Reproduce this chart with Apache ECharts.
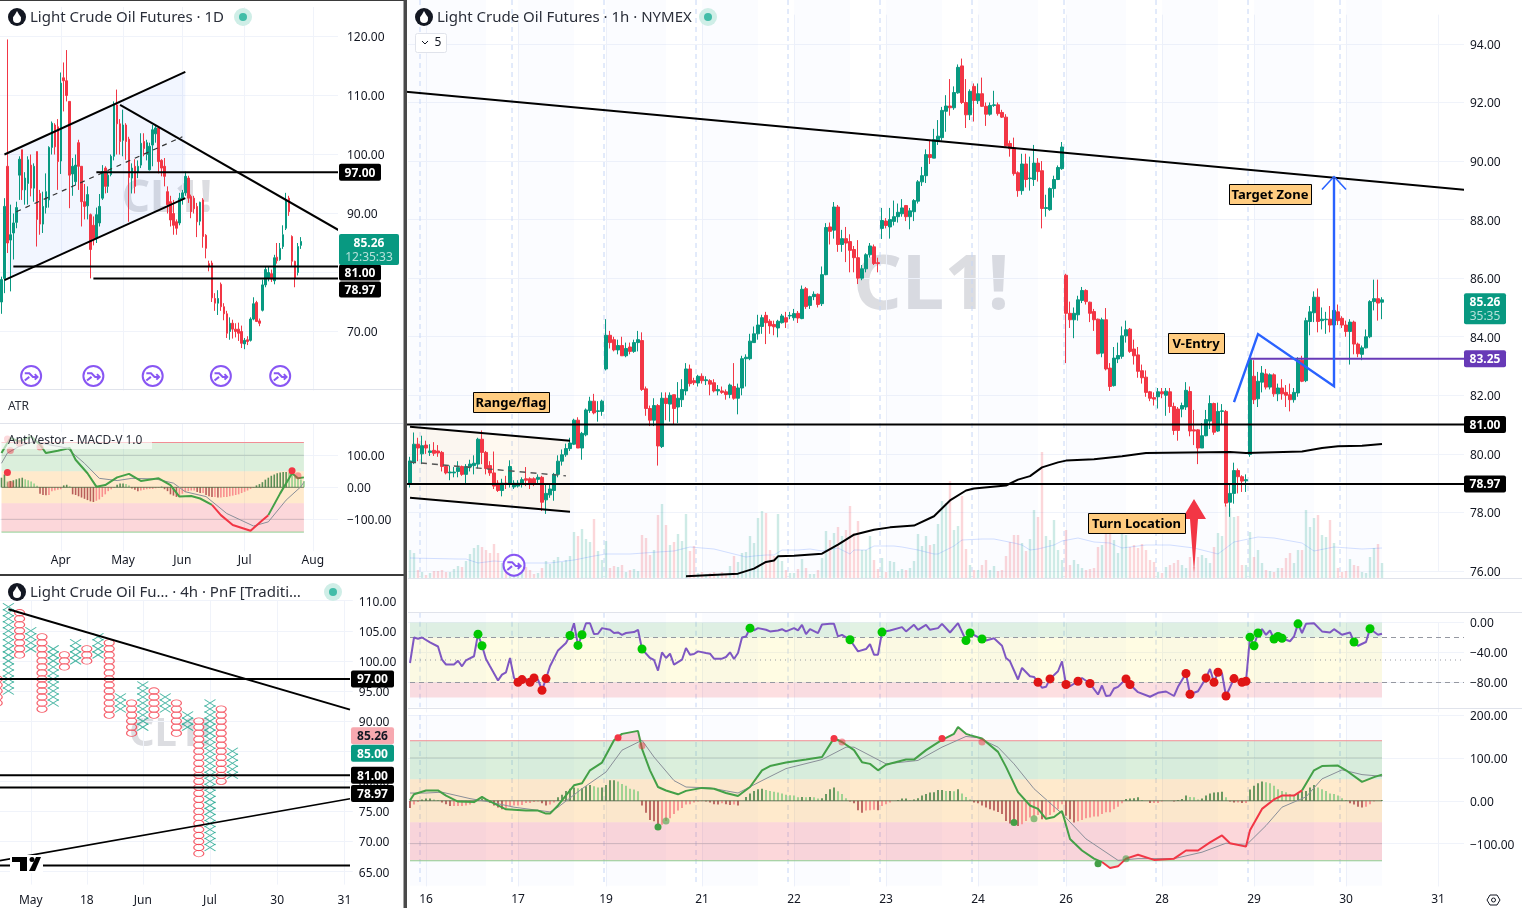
<!DOCTYPE html>
<html>
<head>
<meta charset="utf-8">
<title>CL1!</title>
<script src="https://cdn.jsdelivr.net/npm/echarts@6/dist/echarts.min.js"></script>
<style>html,body{margin:0;padding:0;background:#fff}#root{width:1522px;height:908px}</style>
</head>
<body>
<div id="root"></div>
<script>
// daily candles, top left pane: open, close, low, high
const dayBars = [
[75,78.8,73,79.3],[79,91.2,76.5,92.6],[98,85,83.3,119.5],[85.5,86.4,76.8,91.5],[86.7,88.4,82.2,90],[88.5,91,87.5,92],[96.5,99.2,92.3,99.7],[100.8,94,92.3,100.8],[94,96,91.5,97],[95.1,99.1,91.5,99.7],
[98.2,94.3,92.9,100],[94.3,98,92,98.5],[100.5,89,84.4,100.5],[93.4,88.2,86.4,94],[88.2,91.2,86.7,93.7],[91,93.7,90,96.8],[92.3,101.2,91,101.4],[101.2,105.3,100,105.6],[105,101.3,100,105.3],[104.7,98.8,94,106],
[98.9,112.1,96.7,113.9],[113,112.5,107.3,115.6],[112.5,110,109,117.7],[109,96.5,90.9,109],[96.7,98,93,99.4],[95.4,98.2,94.8,100],[102,98,94,102.5],[98,92,87.8,98],[92,91.2,89,95],[91.3,93.2,89,94.6],
[89.8,83.9,79,90],[88,85.7,84.6,89.5],[85.8,89.8,85,91],[88.4,91.2,87.8,93.3],[92.6,97.1,92.3,98.2],[97.7,94.6,93.4,98],[94.6,96.5,93.5,97],[96.6,99.7,96.3,100],[99.7,108.4,99,109],[108.4,105.2,100,111],
[105.2,102.2,100,106],[102.4,105,99.7,107.6],[105,102.2,99.1,105.3],[102.6,96.1,88.6,103],[96,97.7,93.4,98.5],[98,94.6,93.4,99.2],[97,98,96,99],[98.2,101.9,97.7,103.6],[102.2,101,99.7,103.6],[100,102,99,102.5],
[97.4,101.4,97.3,102],[101.6,104.2,98,105],[103.5,104.5,102,105],[104.5,98.8,96.8,104.8],[99,97.7,96.3,99.2],[98,96.3,94.6,99.4],[93.7,91.5,90,94.6],[92,88.9,87.8,93],[90,88,86.4,92.3],[88.6,87.5,86.4,89],
[88.4,92.6,88,93.5],[92.5,93.5,91.5,94],[93.5,96.3,93,97.1],[96,92.6,91.8,96.4],[92.9,90.3,89.2,93.2],[92.6,90.8,90,93],[91.2,88.6,86,91.8],[88.7,91.9,88,92],[92.3,86.1,84.2,92.6],[86.3,84.1,82.4,86.5],
[81.5,81,80.2,82],[81.6,75.7,75,82],[75.6,74.8,73.5,76.5],[74.8,75.6,72.8,77],[78,74.2,73.5,78.3],[74.2,73,71.9,74.8],[73,69.7,68.9,73.5],[70,71.4,68.6,72.4],[71.4,70.4,68.8,72],[70.4,70,69,71.4],
[70.4,69.7,68.4,71.5],[70,68,67.2,71],[67.9,68.5,67,68.9],[68.6,68.3,67.7,69.2],[68.5,72.1,68.3,72.4],[72.1,74.7,71.9,75.8],[74.9,71.7,71.6,75.2],[71.8,71.4,70.9,72.2],[73.6,77.9,73.4,78.8],[77.9,80.5,77.5,81],
[79,80,78.5,81],[79.8,78.9,78.4,80.5],[78.6,82.5,78,83],[82.6,82,81.5,85],[82.2,84.1,82,85],[84.4,86.4,84,88],[87.5,92.3,87.2,93.5],[92.6,90.3,89.6,93],[86.1,81.9,81,86.3],[81.9,79,77.5,82],
[80,84.4,79.5,85],[84.6,85.26,84,86]
];
const dayTickIdx = [20,41,61,82,105];
const dayTickText = ['Apr','May','Jun','Jul','Aug'];
const dayEventIdx = [10,31,51,74,94];

// MACD-V on the daily pane: [bar, value] vertices
const dayMacd = [[0,107],[3,154],[6,143],[10,159],[13,133],[15,107],[19,114],[23,123],[25,86],[29,44],[32,2],[35,7],[39,31],[43,42],[47,20],[53,28],[57,7],[60,-29],[64,-27],[67,-35],[71,-55],[74,-87],[78,-118],[84,-136],[88,-103],[90,-87],[94,-19],[98,44],[100,28],[102,31]];
const daySignal = [[0,75],[2,107],[6,128],[11,143],[16,133],[22,123],[28,75],[33,28],[39,21],[44,28],[52,26],[58,13],[62,-14],[69,-29],[76,-82],[85,-121],[90,-108],[96,-40],[101,2],[102,16]];
const dayHist = [30,40,18,20,22,25,28,30,25,22,18,12,5,-20,-24,-25,-24,-12,-10,-8,-6,6,8,3,-22,-24,-28,-32,-36,-40,-44,-46,-42,-38,-30,-22,-12,-6,-2,8,12,12,10,6,-4,-8,-12,-10,-8,-6,-5,-5,-3,-2,2,-6,-12,-22,-26,-30,-26,-20,-15,-12,-10,-10,-15,-18,-18,-24,-28,-30,-30,-32,-32,-30,-30,-28,-26,-24,-22,-18,-14,-10,-5,-2,6,10,16,24,30,36,40,44,46,48,48,46,42,34,28,24,20];
const dayDots = [[2,46],[98,52]];
const dayDotsPale = [[3,9],[100,36],[2,151],[3,115],[6,138],[13,126]];

// point & figure columns: highest box, lowest box, kind
const pnfTop =    [97,109,108,105,104,102,101,103,102,104,103,94,93,96,95,94,93,91,90,93,92,85];
const pnfBottom = [93,95,101,102,92,93,99,100,100,101,91,92,88,89,91,92,88,89,68,69,80,81];
const pnfKind =   ['O','X','O','X','O','X','O','X','O','X','O','X','O','X','O','X','O','X','O','X','O','X'];
// the pnf axis runs in half columns so column 0 can sit just off the left edge
const pnfTickIdx = [5,15,25,37,49,61];
const pnfTickText = ['May','18','Jun','Jul','30','31'];

// hourly candles, main pane: open, close, low, high
const hourBars = [
[78.97,79.76,78.85,79.9],[79.7,80.33,79.65,80.73],[80.33,80.2,79.75,80.55],[80,80.28,79.65,80.62],[80.3,80.2,80,80.45],[80.05,80.1,79.93,80.33],[80.12,80.02,79.93,80.4],[80.1,80.03,79.9,80.3],[80.05,79.57,79.4,80.1],[79.57,79.35,79.3,79.6],
[79.35,79.38,79.1,79.6],[79.35,79.38,79.2,79.55],[79.4,79.53,79.2,79.75],[79.57,79.3,79.25,79.6],[79.3,79.57,79,79.65],[79.55,79.65,79.4,79.8],[79.6,79.68,79.3,79.95],[79.65,80.5,79.5,80.55],[80.5,80.05,79.65,80.8],[80.05,79.5,79.3,80.1],
[79.6,79.35,79.25,79.75],[79.35,78.9,78.8,80.08],[79,78.75,78.7,79.1],[78.75,79,78.55,79.15],[79,78.98,78.8,79.25],[79,79.57,78.85,79.78],[78.87,79,78.8,79.1],[78.9,79,78.85,79.1],[78.98,79.12,78.85,79.2],[79.15,79.1,78.9,79.55],
[79.15,79,78.8,79.2],[79.15,79,78.9,79.2],[79.13,79.2,79,79.3],[79.2,78.35,78.05,79.25],[78.43,78.65,77.95,78.95],[78.6,78.8,78.5,79],[78.75,79.3,78.4,79.35],[79.3,79.75,79.2,79.95],[79.75,79.97,79.6,80.15],[79.97,80.18,79.9,80.35],
[80.18,80.37,80.1,80.55],[80.33,81.15,80.3,81.2],[81.15,80.2,80.2,81.25],[80.2,80.7,79.8,80.75],[80.65,81.5,80.6,81.55],[81.48,81.8,81.4,81.95],[81.8,81.4,81.35,82.05],[81.45,81.47,81.1,81.8],[81.45,81.8,81.3,81.85],[82.9,84.05,82.85,84.6],
[84.05,83.8,83.6,84.2],[83.9,83.55,83.5,84],[83.55,83.7,83.4,83.9],[83.7,83.35,83.35,84],[83.35,83.6,83.3,83.8],[83.65,83.5,83.4,83.8],[83.5,83.8,83.45,83.9],[83.8,83.9,83.5,84.2],[83.87,82.2,82.15,84.15],[82.22,81.55,81.3,82.3],
[81.55,81.15,80.95,81.65],[81.15,81.65,80.95,81.9],[81.65,80.27,79.6,81.7],[80.25,81.9,80.2,82.1],[81.9,81.72,81.15,82.1],[81.7,82,81.1,82.1],[82.02,81.55,81,82.02],[81.6,81.9,81.05,82.45],[81.85,82.2,81.6,82.55],[82.15,82.9,82,83.1],
[82.9,82.4,82.3,83.05],[82.5,82.43,82.35,82.6],[82.42,82.65,82.3,82.7],[82.65,82.5,82.4,82.75],[82.5,82.53,82.35,82.65],[82.5,82.38,82,82.55],[82.43,82.15,82.1,82.55],[82.15,82.2,82,82.35],[82.15,82.1,82.05,82.3],[82.12,82.03,81.85,82.2],
[82.03,82.35,81.9,82.4],[82.3,81.9,81.85,83.1],[81.9,82.25,81.35,82.4],[82.25,83.25,82,83.35],[83.25,83.3,82.3,83.4],[83.25,83.85,83.2,84.1],[83.8,84.1,83.8,84.35],[84.1,84.4,83.9,84.75],[84.35,84.65,84.1,84.75],[84.73,84.48,83.75,84.85],
[84.53,84.37,84.1,84.6],[84.42,84.34,84.05,84.55],[84.3,84.53,83.98,84.58],[84.48,84.71,84.45,84.78],[84.65,84.5,84.3,84.85],[84.71,84.73,84.6,84.85],[84.65,84.79,84.55,84.95],[84.8,84.64,84.47,84.88],[84.62,85.62,84.6,85.75],[85.64,85.03,84.95,85.7],
[85.07,85.37,84.95,85.4],[85.37,85.45,85.25,85.55],[85.45,85.1,85,85.48],[85.13,86.12,85.05,86.4],[86.12,87.73,86.1,87.88],[87.75,87.6,87.15,87.9],[87.64,88.43,87.35,88.6],[88.43,87.15,86.9,88.5],[87.15,87.35,86.9,87.65],[87.35,87.2,86.55,87.75],
[87.25,86.95,86.2,87.5],[86.98,86.7,86.2,87.1],[86.7,86,85.8,87.3],[86,86.32,85.93,86.45],[86.32,86.8,86.2,86.85],[86.8,87.1,86.7,87.2],[87.07,86.5,86.45,87.15],[86.53,86.5,86.2,86.7],[87.7,87.97,87.34,88.4],[87.95,87.8,87.7,88.05],
[87.75,88,87.35,88.4],[87.94,88.1,87.8,88.65],[88.1,88.25,87.9,88.55],[88.2,88.4,88.1,88.7],[88.48,88.1,87.95,88.5],[88.1,88.3,87.67,88.4],[88.27,88.65,87.95,88.7],[88.63,89.29,88.55,89.35],[89.29,89.5,89.15,89.8],[89.5,90.22,89.25,90.4],
[90.22,90.12,89.9,90.7],[90.1,90.73,90.1,91.1],[90.68,90.85,90.55,91.4],[90.8,91.73,90.7,91.85],[91.7,91.88,91,92.25],[91.88,91.82,91.55,92.8],[91.82,92.34,91.75,92.55],[92.33,93.2,92.3,93.3],[93.25,92,91.95,93.5],[92,91.58,91.13,92.8],
[91.58,92.38,91.4,92.45],[92.55,92.07,91.35,92.65],[92.06,92.3,91.95,92.65],[92.3,91.87,91.85,92.85],[91.87,91.6,91.2,92],[91.6,91.9,91.55,92],[91.9,91.92,91.85,92.4],[91.92,91.62,91.55,92],[91.66,91.5,91.47,91.75],[91.5,90.52,90.5,91.6],
[90.6,90.42,90.15,90.7],[90.45,89.57,89.5,90.8],[89.6,88.99,88.78,89.65],[88.99,89.9,88.85,90.25],[89.9,89.37,89.1,90.25],[89.4,89.42,88.99,90.15],[89.37,89.93,89.15,90.55],[89.93,89.64,89.3,90.1],[89.67,88.38,87.7,90],[88.38,88.41,88.1,88.85],
[88.34,89.06,88.3,89.1],[89.06,89.37,88.75,89.5],[89.37,89.78,89.35,89.85],[89.74,90.48,89.7,90.65],[86.1,84.8,83.1,86.15],[84.8,84.58,84.3,85.2],[84.58,84.8,83.95,85],[84.75,85.26,84.55,85.4],[85.24,85.58,85.15,85.7],[85.58,85.2,85.1,85.62],
[85.18,84.8,84.5,85.2],[84.86,84.58,84.2,84.95],[84.6,83.42,83.4,84.62],[83.44,84.58,83.3,84.65],[84.58,82.9,82.85,84.98],[82.93,82.3,82.15,83.1],[82.33,83.27,82.3,83.65],[83.24,83.36,83.1,83.8],[83.33,84.03,83.25,84.35],[84.03,84.24,83.8,84.55],
[84.26,83.5,83.45,84.3],[83.58,83.35,83.05,83.9],[83.38,82.82,82.6,83.65],[82.84,82.6,82.4,83.05],[82.62,82.1,81.95,82.85],[82.12,81.9,81.8,82.15],[81.92,81.87,81.65,82.1],[81.95,82.12,81.55,82.25],[82.12,82.05,81.9,82.25],[82,82.14,81.3,82.25],
[82.12,81.62,81.4,82.25],[81.62,80.8,80.65,81.75],[81.53,80.8,80.45,81.6],[81.53,81.65,81.25,81.75],[81.6,82.17,81.5,82.45],[82.13,80.78,80.6,82.3],[80.82,80.78,80.3,81.5],[80.82,80.2,79.65,80.85],[80.2,80.62,80.2,81.05],[80.62,81.17,80.6,81.5],
[81.12,81.72,80.85,82],[81.72,80.74,80.65,81.75],[80.78,81.45,80.75,81.75],[81.45,81.47,81,81.7],[81.45,78.32,78.2,81.5],[78.35,78.65,77.85,79],[78.65,79.43,78.3,79.7],[79.43,79.22,78.65,79.5],[79.22,79.07,78.7,79.27],[79.08,79.12,78.7,79.3],
[79.98,83.22,79.9,83.25],[82.65,81.85,81.7,83.2],[81.88,82.48,81.6,82.8],[82.45,82.76,82.1,83],[82.73,82.28,82.2,82.9],[82.28,82.7,82.2,82.75],[82.7,82.05,81.95,82.75],[82.05,82.25,81.8,82.4],[82.25,82.05,81.85,82.55],[82.1,82,81.6,82.35],
[82.02,81.85,81.45,82.4],[81.85,82.1,81.75,82.25],[82.08,83.2,81.95,83.3],[83.2,82.48,82.45,83.35],[82.5,84.55,82.45,84.65],[84.52,84.85,84.05,85.05],[84.82,85.35,84.5,85.55],[85.35,84.52,84.15,85.65],[84.55,84.6,84.25,85],[84.58,84.6,84.1,84.85],
[84.6,84.4,84.15,85.05],[84.4,84.9,84.1,85.25],[84.85,84.55,84.4,85.1],[84.63,84.4,84.3,84.7],[84.4,84.18,84,84.55],[84.18,84.5,83.05,84.6],[84.5,83.75,83.4,84.55],[83.75,83.42,83.3,83.8],[83.4,83.62,83.2,83.7],[83.62,84,83.6,84.25],
[84,85.2,83.95,85.25],[85.2,85.3,84.9,85.95],[85.3,85.15,84.55,85.95],[85.18,85.26,84.6,85.35]
];
const hourVolume = [28,25,8,6,3,5,7,7,8,6,6,9,12,11,17,24,30,33,31,28,25,34,25,15,9,22,18,12,14,11,8,4,5,10,17,14,18,21,16,18,22,46,42,49,39,36,59,27,18,37,10,12,11,13,6,8,9,7,43,40,23,28,63,74,53,33,36,44,37,64,27,32,5,6,4,5,6,4,6,4,12,22,16,25,26,42,35,
60,67,65,28,22,64,17,8,5,5,9,19,10,4,4,8,20,47,38,45,51,42,48,72,45,57,28,28,42,18,9,20,6,17,16,7,9,8,10,17,44,32,42,33,34,54,77,75,97,48,52,82,29,13,8,8,13,18,8,12,7,8,22,36,43,43,35,27,39,68,61,126,42,38,58,28,18,48,13,18,14,10,8,9,10,
31,33,45,45,38,25,45,43,31,33,30,34,28,18,16,6,5,11,13,15,18,13,10,21,11,21,23,20,15,31,45,42,73,70,61,62,13,13,46,21,28,15,8,7,6,10,10,20,25,15,28,28,68,51,60,63,43,41,58,35,10,6,7,19,13,12,6,5,21,30,34,15];
const volumeAvg = [[0,20],[12,19],[14,19],[17,15],[21,17],[28,15],[35,15],[41,18],[46,22],[49,24],[55,24],[62,26],[66,27],[70,31],[76,29],[81,24],[84,21],[86,22],[89,23],[91,23],[93,28],[97,28],[100,29],[103,27],[107,30],[110,24],[111,28],[114,28],[116,32],[121,32],[123,31],[127,28],[131,24],[132,24],[136,32],[138,38],[143,39],[146,39],[151,35],[153,33],[155,28],[157,29],[161,33],[163,37],[167,40],[171,36],[175,35],[178,30],[184,33],[190,33],[196,30],[202,24],[206,36],[212,41],[216,40],[223,35],[226,27],[231,31],[238,29],[243,30]];
const longAvg = [[69,75.82],[82,75.91],[86,76.08],[89,76.31],[91,76.36],[92,76.5],[96,76.52],[103,76.59],[107,76.9],[111,77.24],[116,77.41],[120,77.49],[126,77.55],[131,77.87],[135,78.41],[139,78.75],[141,78.82],[149,78.92],[152,79.12],[155,79.24],[158,79.54],[162,79.71],[164,79.77],[171,79.82],[178,79.92],[184,80.03],[205,80.06],[209,80.03],[223,80.08],[228,80.2],[232,80.26],[238,80.28],[243,80.34]];
const hourTickIdx = [4,27,49,73,96,119,142,164,188,211,234,257];
const hourTickText = ['16','17','19','21','22','23','24','26','28','29','30','31'];
const sessionIdx = [3,26,49,72,95,118,141,164,187,210,233];
const paleFrom = [0,27,49,73,96,119,142,164,188,211,234];
const paleTo =   [19,41,64,87,110,133,157,179,202,226,243];

// oscillator on the hourly chart: [bar, value] vertices
const rsiLine = [[0,-54],[1,-20],[2,-21.7],[3,-20],[5,-26.5],[7,-32],[8,-49.6],[9,-56],[11,-56],[12,-51],[13,-58.4],[14,-50.4],[16,-45],[17,-15.5],[18,-31],[19,-48.7],[20,-58.4],[22,-77.4],[23,-69.5],[24,-66.4],[25,-47.3],[26,-73.9],[27,-79.7],[28,-76.1],[29,-75.2],[30,-79.7],[31,-73.9],[32,-76.1],[33,-90.3],[34,-74.8],[35,-58.4],[37,-37.2],[39,-27.4],[40,-17.3],[41,-1],[42,-30.5],[43,-16.4],[44,-1],[45,-1],[46,-15.5],[47,-15],[48,-7.5],[50,-9.7],[51,-14],[52,-13.3],[53,-16.4],[54,-14],[56,-12.8],[57,-9.7],[58,-35.4],[60,-47.3],[61,-50],[62,-64.2],[63,-39.8],[64,-47.3],[65,-41.6],[66,-56.2],[68,-49.6],[69,-34],[70,-42.9],[71,-42],[72,-38.5],[74,-40.7],[75,-41.6],[76,-48.2],[78,-48.2],[79,-46],[80,-39.8],[81,-48.7],[82,-40.7],[83,-20],[84,-18.6],[85,-7.5],[86,-10.6],[87,-7.5],[89,-9.7],[90,-11.9],[92,-10.6],[93,-8.9],[94,-11.9],[96,-7.5],[97,-10.6],[98,-3.1],[99,-15.5],[100,-8.9],[102,-14.2],[103,-2.7],[105,-1.8],[106,-1.8],[107,-18.6],[108,-16.4],[110,-23],[112,-38.5],[114,-35.4],[115,-28.8],[116,-42.9],[117,-42.9],[118,-12.8],[120,-10.6],[123,-6.2],[124,-11.9],[126,-3.1],[127,-9.7],[129,-3.1],[130,-9.7],[132,-7.5],[133,-1.8],[135,-13.3],[137,-0.9],[139,-24],[140,-14],[142,-19.5],[143,-22],[144,-24],[146,-21],[148,-31],[149,-47.3],[150,-51.8],[152,-76],[153,-60.6],[155,-71.7],[156,-72.6],[157,-79.7],[158,-87],[159,-85.8],[160,-75.2],[162,-65],[163,-51.8],[164,-82.7],[165,-85],[167,-78.3],[168,-74],[170,-81.4],[172,-96],[173,-84],[174,-98],[175,-97.3],[176,-88],[177,-85.8],[179,-75.2],[180,-82.7],[182,-92.9],[185,-99],[187,-93.8],[189,-92],[191,-98],[192,-85.8],[194,-68],[195,-95.6],[197,-91.6],[199,-73.9],[200,-62],[201,-79.7],[202,-66.4],[203,-68],[204,-98],[206,-74.8],[208,-79.7],[209,-78.3],[210,-19.5],[211,-31],[212,-14],[213,-8.9],[214,-16.4],[215,-10.6],[216,-22],[217,-18.6],[218,-21],[220,-25],[221,-18.6],[222,-1.8],[223,-14],[224,-1.8],[226,-1],[228,-11.9],[230,-13.3],[231,-8.9],[233,-16.4],[235,-13.3],[236,-26],[237,-31],[239,-26],[240,-8.4],[242,-16.4],[243,-15]];
const rsiGreenAt = [17,18,40,42,43,58,85,110,118,139,140,143,210,211,212,216,217,218,222,236,240];
const rsiRedAt = [27,28,30,31,33,34,157,160,164,167,170,179,180,194,195,199,201,202,204,206,208,209];

const hourMacd = [[0,1],[1,15],[4,24],[7,24],[9,12],[12,-2],[16,-3],[18,9],[19,3],[22,-11],[24,-20],[26,-21],[29,-23],[32,-23],[34,-30],[35,-30],[37,-11],[41,36],[43,41],[45,71],[48,89],[51,141],[53,156],[57,163],[58,121],[60,71],[62,32],[64,24],[67,15],[69,23],[73,30],[76,28],[79,18],[82,11],[85,32],[88,71],[90,81],[94,89],[99,96],[103,102],[106,146],[108,137],[111,118],[113,90],[115,86],[117,71],[119,84],[124,96],[126,96],[129,118],[133,142],[136,156],[137,172],[139,156],[140,153],[143,145],[147,114],[149,79],[152,20],[155,-11],[157,-19],[159,-42],[161,-38],[163,-24],[165,-89],[168,-116],[171,-135],[173,-143],[175,-157],[177,-153],[179,-135],[182,-126],[186,-138],[191,-135],[194,-116],[197,-116],[200,-97],[203,-81],[205,-99],[209,-107],[210,-69],[213,-19],[216,3],[218,12],[221,12],[223,24],[226,71],[228,81],[232,82],[234,71],[238,44],[241,55],[243,61]];
const hourSignal = [[0,18],[4,18],[8,20],[15,5],[20,-3],[26,-15],[35,-26],[37,-15],[43,28],[49,67],[53,118],[58,141],[61,102],[66,47],[69,32],[75,30],[82,18],[88,47],[94,75],[103,96],[109,125],[111,125],[119,86],[127,94],[133,125],[139,150],[142,147],[147,125],[151,86],[156,28],[163,-30],[169,-89],[177,-139],[182,-135],[191,-135],[198,-120],[204,-99],[209,-104],[214,-58],[218,-15],[224,9],[228,51],[233,72],[238,61],[243,57]];
const hourHist = [-17,-9,-3,3,5,5,3,2,-4,-8,-12,-12,-12,-12,-11,-9,-6,2,5,2,-5,-11,-16,-20,-17,-12,-11,-11,-10,-5,-5,-3,-2,-6,-11,-9,-4,8,14,23,28,31,29,29,34,37,34,31,31,37,48,48,45,39,35,28,26,22,
-11,-28,-45,-48,-57,-56,-47,-41,-31,-23,-17,-9,-8,-4,-2,-1,-2,-4,-8,-9,-6,-8,-10,-9,-11,
0,9,17,23,27,28,25,23,21,19,17,14,13,12,8,9,8,9,8,5,6,16,27,31,22,16,6,
-2,-6,-22,-28,-23,-22,-21,-22,-12,-8,-4,0,2,5,5,2,3,6,12,16,19,20,25,25,23,23,22,27,17,9,3,
-4,-6,-11,-16,-20,-23,-26,-31,-47,-53,-56,-59,-55,-47,-39,-35,-33,-43,-39,-33,-27,-20,-8,-35,-43,-51,-48,-45,-41,-39,-37,-37,-31,-27,-27,-20,-14,-6,4,5,6,8,2,0,-5,-5,-5,-2,0,0,-2,2,4,12,9,8,3,5,12,17,19,20,21,8,-2,-4,-4,-5,-5,26,35,41,45,43,41,35,27,23,20,16,14,17,22,23,31,37,31,27,23,17,16,12,6,2,-6,-9,-14,-16,-14,-8,-2,0,2];
const hourDots = [[52,147],[106,145],[133,145]];
const hourDotsPale = [[58,128],[108,137],[143,137]];
const hourGreenDots = [[62,-61],[151,-51],[172,-147]];
const hourGreenPale = [[64,-47],[156,-42],[179,-135]];

const UP = '#089981', DOWN = '#f23645', GRID = '#f0f3fa', INK = '#131722';
const FONT = '"Noto Sans"';

function idxAxis(gridIndex, count, tickIdx, tickText, labelMargin, extra) {
    const hit = i => tickIdx.indexOf(i) >= 0;
    return Object.assign({
        type: 'category', gridIndex: gridIndex,
        data: Array.from({length: count}, (_, i) => String(i)),
        axisLine: {show: false},
        axisTick: {show: false},
        axisPointer: {show: false},
        axisLabel: labelMargin == null ? {show: false} : {
            show: true, interval: i => hit(i), margin: labelMargin, color: INK, fontSize: 12, fontFamily: FONT,
            formatter: (v, i) => tickText[tickIdx.indexOf(Number(v))] || ''
        },
        splitLine: tickIdx.length ? {show: true, interval: i => hit(i), alignWithLabel: true, lineStyle: {color: GRID, width: 1}} : {show: false}
    }, extra || {});
}
function priceAxis(gridIndex, min, max, interval, margin, hideEnds) {
    return {
        type: 'value', gridIndex: gridIndex, position: 'right', min: min, max: max, interval: interval, scale: true,
        axisLine: {show: false}, axisTick: {show: false},
        axisLabel: {
            show: margin != null, margin: margin, color: INK, fontSize: 12, fontFamily: FONT, align: 'left',
            showMinLabel: !hideEnds, showMaxLabel: !hideEnds,
            // a thin empty first line moves the digits down onto the grid line
            rich: {s: {height: 3, lineHeight: 3, fontSize: 1}, a: {fontSize: 12, color: INK, fontFamily: FONT}},
            formatter: v => '{s| }\n{a|' + v.toFixed(2).replace('-', '\u2212') + '}'
        },
        splitLine: {show: margin != null, showMinLine: !hideEnds, showMaxLine: !hideEnds, lineStyle: {color: GRID, width: 1}}
    };
}

// shapes given in axis values, drawn through api.coord
function shape(g, pts, fill, z) {
    return {type: 'custom', xAxisIndex: g, yAxisIndex: g, z: z, silent: true, data: [[0, 0]], animation: false,
        renderItem: (p, api) => ({type: 'polygon', shape: {points: pts.map(q => api.coord(q))}, style: {fill: fill}})};
}
function stroke(g, pts, color, width, dash, z, shift) {
    return {type: 'custom', xAxisIndex: g, yAxisIndex: g, z: z, silent: true, data: [[0, 0]], animation: false,
        renderItem: (p, api) => {
            const c = p.coordSys;
            return {type: 'polyline', shape: {points: pts.map(q => { const a = api.coord(q); return [a[0] + (shift || 0), a[1]]; })},
                style: {stroke: color, lineWidth: width, lineDash: dash || null, fill: null},
                clipPath: {type: 'rect', shape: {x: c.x - 3, y: c.y - 20, width: c.width + 3, height: c.height + 40}}};
        }};
}
function tags(g, x, list) {
    return {type: 'custom', xAxisIndex: g, yAxisIndex: g, z: 8, silent: true, data: [[0, 0]], animation: false,
        renderItem: (p, api) => {
            const kids = [];
            list.forEach(t => {
                const y = api.coord([0, t.value])[1] + (t.dy || 0);
                kids.push({type: 'rect', shape: {x: x, y: y - t.h / 2, width: t.w, height: t.h, r: 2}, style: {fill: t.bg}});
                t.lines.forEach((s, k) => kids.push({type: 'text', style: {
                    text: s, x: x + t.w / 2, y: y + 1 + (k - (t.lines.length - 1) / 2) * 14, align: 'center', verticalAlign: 'middle',
                    fill: (t.fg || ['#fff', 'rgba(255,255,255,.7)'])[k], font: (k ? '' : 'bold ') + '12px ' + FONT}}));
            });
            return {type: 'group', children: kids};
        }};
}
function candles(g, rows, width) {
    return {type: 'candlestick', xAxisIndex: g, yAxisIndex: g, z: 3, barWidth: width, data: rows, animation: false,
        itemStyle: {color: UP, color0: DOWN, borderColor: UP, borderColor0: DOWN, borderWidth: 1}};
}
function lineOf(g, pts, color, width, z, smooth) {
    return {type: 'line', xAxisIndex: g, yAxisIndex: g, data: pts, symbol: 'none', clip: false, z: z, smooth: smooth || false, animation: false,
        lineStyle: {color: color, width: width}};
}
function dots(g, pts, color, size, z) {
    return {type: 'scatter', xAxisIndex: g, yAxisIndex: g, data: pts, symbolSize: size, z: z || 7, animation: false, clip: false, itemStyle: {color: color, opacity: 1}};
}
function histo(g, vals, width) {
    return {type: 'bar', xAxisIndex: g, yAxisIndex: g, data: vals, barWidth: width, z: 2, animation: false,
        itemStyle: {color: p => {
            const v = p.value, prev = p.dataIndex ? vals[p.dataIndex - 1] : 0;
            if (v >= 0) return v >= prev ? '#5b8f55' : '#95d08c';
            return v < prev ? '#b95e5a' : '#f98f8f';
        }}};
}
function macdBands(g, last) {
    return [
        shape(g, [[0,140],[last,140],[last,50],[0,50]], 'rgba(76,175,80,.2)', 1),
        shape(g, [[0,50],[last,50],[last,-50],[0,-50]], 'rgba(255,152,0,.2)', 1),
        shape(g, [[0,-50],[last,-50],[last,-140],[0,-140]], 'rgba(242,54,69,.2)', 1),
        stroke(g, [[0,140],[last,140]], '#f28d95', 1, null, 1),
        stroke(g, [[0,-140],[last,-140]], '#8fcf93', 1, null, 1),
        stroke(g, [[0,100],[last,100]], 'rgba(110,110,110,.25)', 1, null, 1),
        stroke(g, [[0,-100],[last,-100]], 'rgba(110,110,110,.25)', 1, null, 1),
        stroke(g, [[0,0],[last,0]], 'rgba(60,90,55,.75)', 1, null, 3)
    ];
}

// grids: 0 daily, 1 daily macd, 2 pnf, 3 hourly, 4 volume, 5 oscillator, 6 hourly macd
const grid = [
    {left: 0, top: 7, width: 338, height: 383.5},
    {left: 0, top: 423.3, width: 338, height: 128},
    {left: 0, top: 600.7, width: 352.8, height: 270.9},
    {left: 408, top: 14.65, width: 1056, height: 556.35},
    {left: 408, top: 448, width: 1056, height: 130},
    {left: 408, top: 622.5, width: 1056, height: 90},
    {left: 408, top: 715, width: 1056, height: 171.5}
];
const xAxis = [
    idxAxis(0, 114, dayTickIdx, dayTickText),
    idxAxis(1, 114, dayTickIdx, dayTickText, 3),
    idxAxis(2, 63, pnfTickIdx, pnfTickText, 23),
    idxAxis(3, 264, hourTickIdx, hourTickText),
    idxAxis(4, 264, [], []),
    idxAxis(5, 264, hourTickIdx, hourTickText),
    idxAxis(6, 264, hourTickIdx, hourTickText, 7)
];
xAxis[2].axisTick = {show: true, length: 13, interval: i => pnfTickIdx.indexOf(i) >= 0, alignWithLabel: true, lineStyle: {color: GRID}};
const yAxis = [
    priceAxis(0, 60, 125, 10, 9, true),
    priceAxis(1, -200, 200, 100, 9, true),
    priceAxis(2, 65, 110, 5, 6, false),
    priceAxis(3, 76, 95, 2, 6, false),
    priceAxis(4, 0, 130, 130),
    priceAxis(5, -120, 0, 40, 6, false),
    priceAxis(6, -200, 200, 100, 6, false)
];
yAxis[3].axisLabel.showMaxLabel = false;
yAxis[3].splitLine.showMaxLine = false;
yAxis[5].axisLabel.showMinLabel = false;
yAxis[5].splitLine.showMinLine = false;
yAxis[6].axisLabel.showMinLabel = false;
yAxis[6].splitLine.showMinLine = false;

const eventSymbol = 'path://M12 1a11 11 0 1 0 0.01 0z M5 9 L10 9 L14 13 L19 13 M16 10 L19 13 L16 16 M5 17 L10 13';
const eventStyle = {color: '#fff', borderColor: '#6a2cf0', borderWidth: 2};
const pnfX = [], pnfO = [];
pnfTop.forEach((top, col) => {
    for (let box = pnfBottom[col]; box <= top; box++) (pnfKind[col] === 'X' ? pnfX : pnfO).push([2 * col - 1, box]);
});
const rsiAt = i => rsiLine.find(p => p[0] === i);
const volColor = i => hourBars[i] && hourBars[i][1] >= hourBars[i][0] ? 'rgba(8,153,129,.2)' : 'rgba(242,54,69,.2)';
const BLACK = '#000', BLUE = '#2962ff', PALE = 'rgba(41,98,255,.018)';

const series = [
    // daily pane
    shape(0, [[2,100.2],[62,114],[62,92.6],[2,78.9]], 'rgba(41,98,255,.06)', 1),
    candles(0, dayBars, 2),
    stroke(0, [[1,100],[62,114]], BLACK, 2, null, 5),
    stroke(0, [[1,78.7],[62,92.6]], BLACK, 2, null, 5),
    stroke(0, [[5,90.3],[61,103]], '#333', 1.2, [5,5], 5),
    stroke(0, [[40,108.4],[114,87.1]], BLACK, 2, null, 5),
    stroke(0, [[32,97],[114,97]], BLACK, 2, null, 5),
    stroke(0, [[4,81],[114,81]], BLACK, 2, null, 5),
    stroke(0, [[31,78.97],[114,78.97]], BLACK, 2, null, 5),
    {type: 'scatter', xAxisIndex: 0, yAxisIndex: 0, z: 6, symbol: eventSymbol, symbolSize: 20, itemStyle: eventStyle, animation: false,
        data: dayEventIdx.map(i => [i, 62.46])},
    tags(0, 339, [
        {value: 97, lines: ['97.00'], bg: '#000', w: 42, h: 17},
        {value: 81, dy: 6, lines: ['81.00'], bg: '#000', w: 42, h: 16},
        {value: 78.97, dy: 11, lines: ['78.97'], bg: '#000', w: 42, h: 16},
        {value: 85.26, dy: 8, lines: ['85.26', '12:35:33'], bg: UP, w: 60, h: 31}
    ]),
    // daily macd pane
    ...macdBands(1, 102),
    histo(1, dayHist, 1.6),
    lineOf(1, daySignal, '#8a8f99', 1, 4),
    lineOf(1, dayMacd.filter(p => p[0] <= 71), '#43a047', 2, 5),
    lineOf(1, dayMacd.filter(p => p[0] >= 90), '#43a047', 2, 5),
    lineOf(1, dayMacd.filter(p => p[0] >= 71 && p[0] <= 90), DOWN, 2, 5),
    dots(1, dayDots, DOWN, 7),
    dots(1, dayDotsPale, 'rgba(242,54,69,.45)', 7),
    // point & figure pane
    {type: 'scatter', xAxisIndex: 2, yAxisIndex: 2, z: 3, data: pnfO, symbol: 'circle', symbolSize: [10, 6.5], animation: false, clip: false,
        itemStyle: {color: 'rgba(255,255,255,0)', borderColor: DOWN, borderWidth: 1}},
    {type: 'scatter', xAxisIndex: 2, yAxisIndex: 2, z: 3, data: pnfX, symbol: 'path://M0 0L10 10M10 0L0 10', symbolSize: [11, 7], animation: false, clip: false,
        itemStyle: {color: 'rgba(255,255,255,0)', borderColor: '#1fa58e', borderWidth: 1}},
    stroke(2, [[1,108.57],[62,91.9]], BLACK, 2, null, 5),
    stroke(2, [[-1,66.75],[62,77.1]], BLACK, 1.6, null, 5),
    stroke(2, [[-3,97],[62,97]], BLACK, 2, null, 5),
    stroke(2, [[-3,81],[62,81]], BLACK, 2, null, 5),
    stroke(2, [[-3,78.97],[62,78.97]], BLACK, 2, null, 5),
    stroke(2, [[-3,66],[62,66]], BLACK, 2, null, 5),
    tags(2, 351, [
        {value: 97, lines: ['97.00'], bg: '#000', w: 43, h: 17},
        {value: 85.26, dy: -14, lines: ['85.26'], bg: '#f7a9b0', fg: [INK], w: 43, h: 17},
        {value: 85, dy: 2, lines: ['85.00'], bg: UP, w: 43, h: 17},
        {value: 81, lines: ['81.00'], bg: '#000', w: 43, h: 17},
        {value: 78.97, dy: 6, lines: ['78.97'], bg: '#000', w: 43, h: 17}
    ]),
    // hourly pane
    ...paleFrom.map((a, k) => shape(3, [[a,95.5],[paleTo[k],95.5],[paleTo[k],75.8],[a,75.8]], PALE, 0)),
    ...sessionIdx.map(i => stroke(3, [[i,95.5],[i,75.8]], '#c6d6f6', 1, [5,4], 1, -2)),
    shape(3, [[0,80.93],[40,80.45],[40,78.02],[0,78.5]], 'rgba(255,152,0,.06)', 1),
    {type: 'bar', xAxisIndex: 4, yAxisIndex: 4, data: hourVolume, barWidth: 2.4, z: 1, animation: false,
        itemStyle: {color: p => volColor(p.dataIndex)}},
    lineOf(4, volumeAvg, 'rgba(41,98,255,.2)', 1, 2),
    candles(3, hourBars, 3),
    lineOf(3, longAvg, BLACK, 2, 5),
    stroke(3, [[-1,92.37],[264,89.01]], BLACK, 2, null, 5),
    stroke(3, [[0,80.93],[40,80.45]], BLACK, 2, null, 5),
    stroke(3, [[0,78.5],[40,78.02]], BLACK, 2, null, 5),
    stroke(3, [[0,79.72],[39,79.25]], '#555', 1.4, [6,5], 5),
    stroke(3, [[-1,81],[264,81]], BLACK, 2, null, 5),
    stroke(3, [[-1,78.97],[264,78.97]], BLACK, 2, null, 5),
    stroke(3, [[210,83.25],[264,83.25]], '#673ab7', 2, null, 5),
    stroke(3, [[206,81.77],[212,84.09],[231,82.31],[231,89.4]], BLUE, 2.4, null, 6),
    stroke(3, [[228,89.03],[231,89.47],[234,89.03]], BLUE, 1.6, null, 6),
    shape(3, [[196,78.46],[199,77.78],[197,77.78],[196,75.94],[195,77.78],[193,77.78]], DOWN, 6),
    {type: 'scatter', xAxisIndex: 3, yAxisIndex: 3, z: 6, symbol: eventSymbol, symbolSize: 21, itemStyle: eventStyle, animation: false, data: [[26, 76.2]]},
    tags(3, 1464, [
        {value: 85.26, dy: 9, lines: ['85.26', '35:35'], bg: UP, w: 42, h: 31},
        {value: 83.25, lines: ['83.25'], bg: '#673ab7', w: 42, h: 17},
        {value: 81, lines: ['81.00'], bg: '#000', w: 42, h: 17},
        {value: 78.97, lines: ['78.97'], bg: '#000', w: 42, h: 17}
    ]),
    // oscillator pane
    ...paleFrom.map((a, k) => shape(5, [[a,13],[paleTo[k],13],[paleTo[k],-113],[a,-113]], PALE, 0)),
    ...sessionIdx.map(i => stroke(5, [[i,13],[i,-113]], '#c6d6f6', 1, [5,4], 1, -2)),
    shape(5, [[0,0],[243,0],[243,-20],[0,-20]], 'rgba(76,175,80,.16)', 1),
    shape(5, [[0,-20],[243,-20],[243,-80],[0,-80]], 'rgba(255,235,59,.14)', 1),
    shape(5, [[0,-80],[243,-80],[243,-100],[0,-100]], 'rgba(242,54,69,.16)', 1),
    stroke(5, [[0,-20],[264,-20]], '#9598a1', 1, [5,4], 2),
    stroke(5, [[0,-80],[264,-80]], '#9598a1', 1, [5,4], 2),
    stroke(5, [[0,-50],[264,-50]], '#9598a1', 1, [1,4], 2),
    lineOf(5, rsiLine, '#7e57c2', 2, 4),
    dots(5, rsiGreenAt.map(rsiAt), '#00c800', 9),
    dots(5, rsiRedAt.map(rsiAt), '#e01515', 9),
    // hourly macd pane
    ...paleFrom.map((a, k) => shape(6, [[a,200],[paleTo[k],200],[paleTo[k],-198],[a,-198]], PALE, 0)),
    ...sessionIdx.map(i => stroke(6, [[i,200],[i,-198]], '#c6d6f6', 1, [5,4], 1, -2)),
    ...macdBands(6, 243),
    shape(6, [[51,140],[53,156],[57,163],[58,140]], 'rgba(242,54,69,.2)', 1),
    shape(6, [[105,140],[106,146],[107,140]], 'rgba(242,54,69,.2)', 1),
    shape(6, [[133,140],[136,156],[137,172],[139,156],[143,145],[144,140]], 'rgba(242,54,69,.2)', 1),
    shape(6, [[172,-140],[173,-143],[175,-157],[177,-153],[178,-140]], 'rgba(76,175,80,.2)', 1),
    histo(6, hourHist, 1.8),
    lineOf(6, hourSignal, '#8a8f99', 1, 4),
    lineOf(6, hourMacd.filter(p => p[0] <= 173), '#43a047', 2, 5),
    lineOf(6, hourMacd.filter(p => p[0] >= 223), '#43a047', 2, 5),
    lineOf(6, hourMacd.filter(p => p[0] >= 173 && p[0] <= 223), DOWN, 2, 5),
    dots(6, hourDots, DOWN, 7),
    dots(6, hourDotsPale, 'rgba(242,54,69,.5)', 7),
    dots(6, hourGreenDots, '#43a047', 7),
    dots(6, hourGreenPale, 'rgba(67,160,71,.6)', 7)
];

// header, notes and pane furniture
function mark(text, x, y, size) {
    return {type: 'text', z: 0, silent: true, style: {text: text, x: x, y: y, align: 'center', verticalAlign: 'middle', fill: '#dcdde1', font: 'bold ' + size + 'px ' + FONT}};
}
function note(text, x, y, w, h) {
    return [
        {type: 'rect', z: 200, shape: {x: x + .5, y: y + .5, width: w, height: h}, style: {fill: '#ffcc80', stroke: '#000', lineWidth: 1}},
        {type: 'text', z: 201, style: {text: text, x: x + w / 2, y: y + h / 2 + 1, align: 'center', verticalAlign: 'middle', fill: '#000', font: 'bold 13px ' + FONT}}
    ];
}
function head(text, x, y, dotX) {
    return [
        {type: 'circle', z: 150, shape: {cx: x + 9, cy: y, r: 9}, style: {fill: '#131722'}},
        {type: 'polygon', z: 151, shape: {points: [[x + 9, y - 6],[x + 13, y + 1],[x + 5, y + 1]]}, style: {fill: '#fff'}},
        {type: 'circle', z: 151, shape: {cx: x + 9, cy: y + 2, r: 4}, style: {fill: '#fff'}},
        {type: 'text', z: 150, style: {text: text, x: x + 22, y: y + 1, align: 'left', verticalAlign: 'middle', fill: '#2a2e39', font: '15px ' + FONT}},
        {type: 'circle', z: 150, shape: {cx: dotX, cy: y, r: 9}, style: {fill: '#cfeee7'}},
        {type: 'circle', z: 151, shape: {cx: dotX, cy: y, r: 4}, style: {fill: '#42bda8'}}
    ];
}
function rule(x, y, w, h, color) {
    return {type: 'rect', z: 300, silent: true, shape: {x: x, y: y, width: w, height: h}, style: {fill: color}};
}
const graphic = [
    mark('CL1!', 167, 199, 44),
    mark('CL1!', 170, 735, 40),
    mark('CL1!', 931, 287, 76),
    ...head('Light Crude Oil Futures \u00b7 1D', 8, 17, 243),
    ...head('Light Crude Oil Fu\u2026 \u00b7 4h \u00b7 PnF [Traditi\u2026', 8, 592, 333),
    ...head('Light Crude Oil Futures \u00b7 1h \u00b7 NYMEX', 415, 17, 708),
    {type: 'rect', z: 150, shape: {x: 415.5, y: 33.5, width: 31, height: 19, r: 2}, style: {fill: '#fff', stroke: '#e0e3eb'}},
    {type: 'polyline', z: 151, shape: {points: [[422,41],[425,44],[428,41]]}, style: {stroke: INK, fill: null, lineWidth: 1}},
    {type: 'text', z: 151, style: {text: '5', x: 438, y: 43, align: 'center', verticalAlign: 'middle', fill: INK, font: '12px ' + FONT}},
    {type: 'text', z: 150, style: {text: 'ATR', x: 8, y: 407, verticalAlign: 'middle', fill: '#2a2e39', font: '12px ' + FONT}},
    {type: 'rect', z: 149, shape: {x: 0, y: 432, width: 152, height: 17}, style: {fill: 'rgba(255,255,255,.6)'}},
    {type: 'text', z: 150, style: {text: 'AntiVestor - MACD-V 1.0', x: 8, y: 441, verticalAlign: 'middle', fill: '#2a2e39', font: '12px ' + FONT}},
    ...note('Range/flag', 473, 392, 76, 20),
    ...note('V-Entry', 1168, 333, 56, 20),
    ...note('Turn Location', 1088, 513, 97, 20),
    ...note('Target Zone', 1229, 184, 82, 20),
    // tradingview logo in the pnf pane
    {type: 'rect', z: 150, shape: {x: 10, y: 855, width: 33, height: 18}, style: {fill: '#fff'}},
    {type: 'polygon', z: 151, shape: {points: [[12,857],[27,857],[27,871],[20,871],[20,862],[12,862]]}, style: {fill: '#000'}},
    {type: 'circle', z: 151, shape: {cx: 32, cy: 859.5, r: 2.5}, style: {fill: '#000'}},
    {type: 'polygon', z: 151, shape: {points: [[33,871],[35,871],[41,857],[36,857],[29,871]]}, style: {fill: '#000'}},
    // settings icon
    {type: 'polygon', z: 150, shape: {points: [[1487,900],[1490,895],[1497,895],[1500,900],[1497,905],[1490,905]]}, style: {stroke: INK, fill: null, lineWidth: 1}},
    {type: 'circle', z: 150, shape: {cx: 1493.5, cy: 900, r: 2}, style: {stroke: INK, fill: null, lineWidth: 1}},
    // pane borders
    rule(0, 389, 403, 1, '#e0e3eb'),
    rule(0, 423, 403, 1, '#e0e3eb'),
    rule(408, 578, 1114, 1, '#e0e3eb'),
    rule(408, 612, 1114, 1, '#e0e3eb'),
    rule(408, 708, 1114, 1, '#e0e3eb'),
    rule(0, 0, 404, 1, '#3b3b3b'),
    rule(0, 574, 404, 2, '#3b3b3b'),
    rule(403.5, 0, 3.5, 908, '#4a4a4a')
];

const chart = echarts.init(document.getElementById('root'), null, {renderer: 'canvas'});
chart.setOption({
    animation: false,
    backgroundColor: '#fff',
    textStyle: {fontFamily: FONT},
    grid: grid,
    xAxis: xAxis,
    yAxis: yAxis,
    series: series,
    graphic: graphic
});
</script>
</body>
</html>
